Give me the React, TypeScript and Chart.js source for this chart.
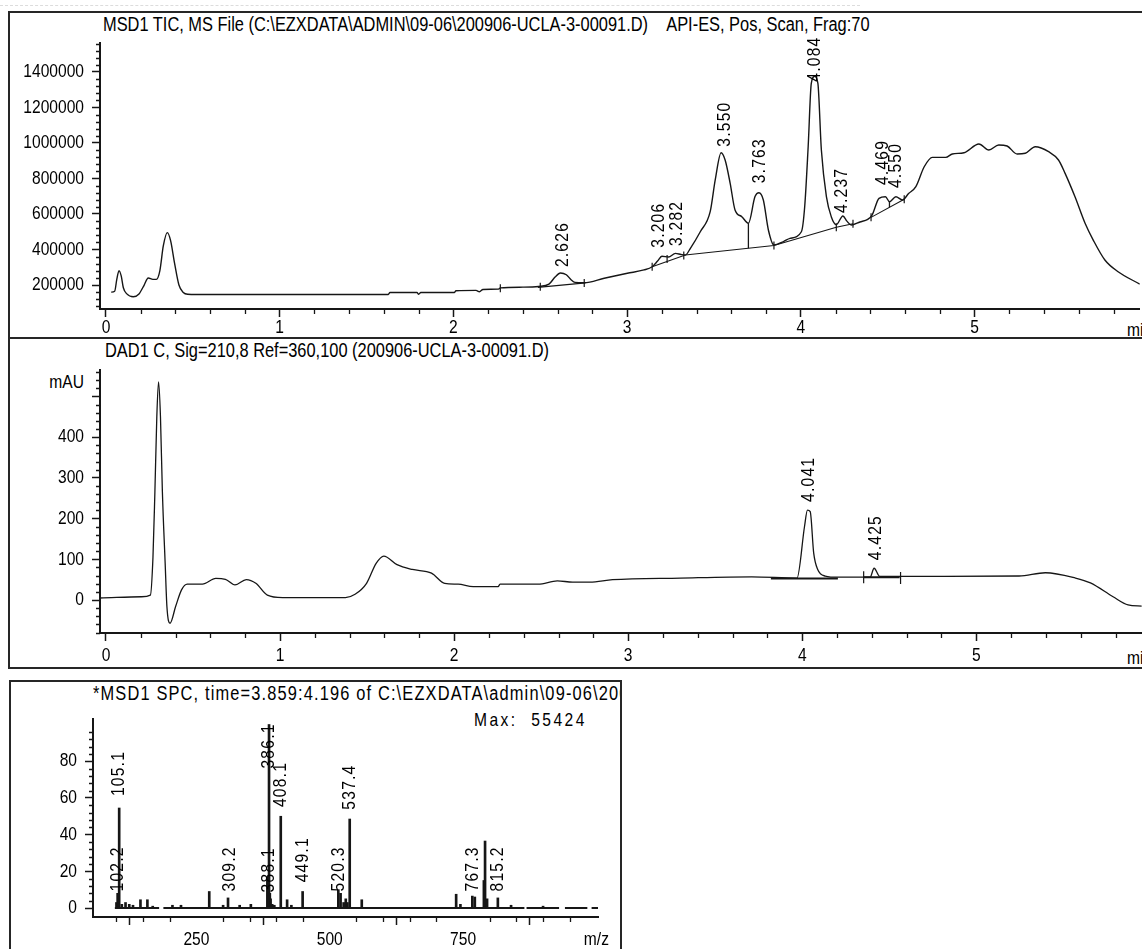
import React, { useEffect, useRef } from "react";
import { Chart, registerables } from "chart.js";

Chart.register(...registerables);

const FONT = '"Liberation Sans", Arial, sans-serif';
const NARROW = 0.82; // horizontal squeeze to imitate a narrow sans face
const INK = "#161616";

// ---------- Panel 1: MSD1 TIC ----------
const ticTime = [0.030,0.050,0.062,0.075,0.088,0.100,0.120,0.157,0.190,0.220,0.243,0.270,0.290,0.310,0.330,0.353,0.372,0.395,0.420,0.445,0.470,0.520,1.625,1.635,1.790,1.800,1.812,2.005,2.015,2.130,2.150,2.170,2.260,2.270,2.400,2.490,2.550,2.585,2.616,2.650,2.677,2.700,2.753,2.868,3.001,3.097,3.144,3.175,3.200,3.238,3.278,3.310,3.335,3.364,3.421,3.478,3.507,3.541,3.564,3.593,3.621,3.660,3.698,3.736,3.759,3.784,3.813,3.845,3.900,3.937,4.003,4.022,4.042,4.060,4.080,4.098,4.118,4.147,4.175,4.204,4.242,4.265,4.290,4.340,4.385,4.410,4.450,4.487,4.510,4.547,4.585,4.620,4.662,4.710,4.757,4.834,4.872,4.939,5.025,5.082,5.139,5.187,5.245,5.292,5.349,5.426,5.483,5.521,5.578,5.636,5.683,5.750,5.826,5.951];
const ticSignal = [160000,165000,230000,281000,250000,185000,150000,134000,150000,200000,240000,232000,232000,280000,420000,495000,450000,322000,200000,158000,148000,147000,147000,158000,158000,148000,158000,158000,168000,170000,162000,175000,177000,184000,188000,192000,205000,245000,268000,258000,230000,215000,213000,238000,266000,285000,303000,335000,362000,358000,378000,372000,369000,407000,500000,613000,792000,945000,904000,773000,623000,585000,548000,698000,720000,679000,510000,425000,445000,463000,500000,641000,979000,1336000,1375000,1336000,960000,698000,585000,540000,589000,560000,538000,555000,570000,594000,688000,697000,669000,697000,679000,715000,754000,866000,919000,919000,938000,945000,994000,960000,989000,983000,938000,942000,979000,951000,904000,829000,697000,548000,453000,341000,275000,205000];

const ticBaseT0 = [2.486, 3.144, 3.335, 3.845, 4.204, 4.404];
const ticBaseV0 = [187000, 303000, 369000, 423000, 525000, 581000];
const ticBaseT1 = [2.760, 3.335, 3.845, 4.204, 4.300, 4.595];
const ticBaseV1 = [212000, 369000, 423000, 525000, 545000, 683000];
const ticDropT = [3.698, 4.510];
const ticDropTop = [548000, 669000];
const ticDropBottom = [407000, 638000];
const ticMarkT = [2.270, 2.500, 2.753, 3.144, 3.230, 3.326, 3.845, 4.204, 4.300, 4.404, 4.595];
const ticMarkV = [182000, 190000, 211000, 303000, 347000, 366000, 423000, 525000, 545000, 581000, 683000];

const ticLabelText = ["2.626", "3.206", "3.282", "3.550", "3.763", "4.084", "4.237", "4.469", "4.550"];
const ticLabelTime = [2.629, 3.183, 3.288, 3.561, 3.761, 4.080, 4.238, 4.471, 4.547];
const ticLabelBase = [301000, 410000, 420000, 979000, 773000, 1345000, 606000, 763000, 746000];

const timeMajorTicks = [0, 1, 2, 3, 4, 5];
const ticYMajorTicks = [200000, 400000, 600000, 800000, 1000000, 1200000, 1400000];

// ---------- Panel 2: DAD1 C ----------
const dadTime = [-0.034,0.204,0.255,0.270,0.281,0.292,0.302,0.313,0.324,0.340,0.350,0.368,0.400,0.434,0.467,0.554,0.631,0.686,0.741,0.806,0.861,0.927,1.015,1.376,1.431,1.497,1.552,1.596,1.672,1.760,1.870,1.946,2.023,2.110,2.253,2.264,2.483,2.593,2.681,2.780,2.910,3.300,3.710,3.970,4.013,4.030,4.046,4.066,4.089,4.132,4.208,4.390,4.413,4.445,4.705,5.246,5.397,5.570,5.656,5.786,5.872,5.951];
const dadSignal = [5,8,12,106,266,450,536,450,266,90,-16,-57,-16,25,39,39,53,51,37,50,41,12,6,6,14,41,90,108,87,75,66,41,39,33,33,39,39,47,44,44,50,54,57,54,180,221,217,115,75,59,56,56,78,58,58,59,67,54,42,8,-12,-15];

const dadBaseT0 = [3.820, 4.353];
const dadBaseT1 = [4.205, 4.560];
const dadBaseV = [53, 56];
const dadMarkT = [4.353, 4.565];
const dadMarkV = [56, 54];

const dadLabelText = ["4.041", "4.425"];
const dadLabelTime = [4.035, 4.420];
const dadLabelBase = [241, 98];

const dadYMajorTicks = [0, 100, 200, 300, 400, 500];

// ---------- Panel 3: MSD1 SPC ----------
const msMz = [100,102.2,105.1,110,117,124,131,145,158,168,205,221,274,300,309.2,331,352,383,384.5,386.1,387.6,389,392,396,408.1,420,428,449.1,516,520.3,526,530,533,537.4,560,737,745,767.3,772,789,791.2,795,815.2,840,900];
const msAbund = [3,8,54.5,2,3,2,1.5,4.5,4.5,1,1.5,1.5,9,1.5,5.5,1.5,2,17,12,100,8,5,2,1.5,50,4.5,1.5,9,10,8,3,5,3,48.5,4.5,7.5,2,6.5,6,15,36.5,5,5.5,1.5,1];

const msBaseStart = [97, 188, 869, 941, 991];
const msBaseEnd = [180, 865, 930, 983, 1003];

const msLabelText = ["102.2", "105.1", "309.2", "386.1", "388.1", "408.1", "449.1", "520.3", "537.4", "767.3", "815.2"];
const msLabelMz = [102.2, 105.1, 312, 386.1, 385, 408.1, 449.1, 517.5, 537.4, 767.3, 815.2];
const msLabelBase = [9, 61, 9, 76, 8.5, 55, 14, 9, 53.6, 9, 9];

const msXMajorTicks = [250, 500, 750, 1000];
const msYMajorTicks = [0, 20, 40, 60, 80];

// ---------- helpers ----------
function minorValues(from: number, to: number, step: number, majorStep: number): number[] {
  const out: number[] = [];
  const n = Math.round((to - from) / step);
  for (let i = 0; i <= n; i++) {
    const v = from + i * step;
    const m = v / majorStep;
    if (Math.abs(m - Math.round(m)) > 1e-6) out.push(+v.toFixed(6));
  }
  return out;
}

type Lbl = { text: string; x: number; y: number };
function zipLabels(t: string[], xs: number[], ys: number[]): Lbl[] {
  return t.map((s, i) => ({ text: s, x: xs[i], y: ys[i] }));
}

function segments(x0: number[], y0: number[], x1: number[], y1: number[]) {
  const d: any[] = [];
  x0.forEach((x, i) => {
    d.push({ x, y: y0[i] }, { x: x1[i], y: y1[i] }, { x: x1[i] + 0.0001, y: null });
  });
  return d;
}

// rotated peak labels, reading bottom-to-top, starting at the given data point
function labelPlugin(labels: Lbl[], size: number, spacing: number) {
  return {
    id: "rotatedLabels",
    afterDatasetsDraw(chart: any) {
      const { ctx, scales } = chart;
      ctx.save();
      ctx.fillStyle = "#000";
      ctx.font = `${size}px ${FONT}`;
      ctx.textAlign = "left";
      ctx.textBaseline = "middle";
      try { (ctx as any).letterSpacing = spacing + "px"; } catch (e) { /* ignore */ }
      for (const l of labels) {
        const px = scales.x.getPixelForValue(l.x);
        const py = scales.y.getPixelForValue(l.y);
        ctx.save();
        ctx.translate(px, py);
        ctx.rotate(-Math.PI / 2);
        ctx.scale(NARROW, 1);
        ctx.fillText(l.text, 0, 0);
        ctx.restore();
      }
      ctx.restore();
    },
  };
}

// axis tick labels drawn with a narrow squeeze at the major tick positions
function axisLabelPlugin(xMaj: number[], xFmt: (v: number) => string, yMaj: number[], yFmt: (v: number) => string, xGap: number) {
  return {
    id: "axisLabels",
    afterDraw(chart: any) {
      const { ctx, chartArea: a, scales } = chart;
      ctx.save();
      ctx.fillStyle = "#000";
      ctx.font = `19px ${FONT}`;
      ctx.textBaseline = "middle";
      for (const v of xMaj) {
        const t = xFmt(v);
        if (!t) continue;
        const px = scales.x.getPixelForValue(v);
        ctx.save();
        ctx.translate(px, a.bottom + xGap);
        ctx.scale(NARROW, 1);
        ctx.textAlign = "center";
        ctx.fillText(t, 0, 0);
        ctx.restore();
      }
      for (const v of yMaj) {
        const t = yFmt(v);
        if (!t) continue;
        const py = scales.y.getPixelForValue(v);
        ctx.save();
        ctx.translate(a.left - 16, py);
        ctx.scale(NARROW, 1);
        ctx.textAlign = "right";
        ctx.fillText(t, 0, 0);
        ctx.restore();
      }
      ctx.restore();
    },
  };
}

function minorTickPlugin(xs: number[], ys: number[], xLen: number, yLen: number) {
  return {
    id: "minorTicks",
    afterDraw(chart: any) {
      const { ctx, chartArea: a, scales } = chart;
      ctx.save();
      ctx.strokeStyle = INK;
      ctx.lineWidth = 1.3;
      ctx.beginPath();
      for (const v of xs) {
        const p = Math.round(scales.x.getPixelForValue(v)) + 0.5;
        if (p < a.left - 1 || p > a.right + 1) continue;
        ctx.moveTo(p, a.bottom);
        ctx.lineTo(p, a.bottom + xLen);
      }
      for (const v of ys) {
        const p = Math.round(scales.y.getPixelForValue(v)) + 0.5;
        if (p < a.top - 1 || p > a.bottom + 1) continue;
        ctx.moveTo(a.left, p);
        ctx.lineTo(a.left - yLen, p);
      }
      ctx.stroke();
      ctx.restore();
    },
  };
}

function xAxis(min: number, max: number, majors: number[], height: number) {
  return {
    type: "linear",
    position: "bottom",
    min,
    max,
    offset: false,
    afterBuildTicks: (s: any) => { s.ticks = majors.map((v) => ({ value: v })); },
    afterFit: (s: any) => { s.height = height; },
    ticks: { display: false, autoSkip: false },
    grid: { display: true, drawOnChartArea: false, drawTicks: true, tickLength: 8, tickColor: INK, tickWidth: 1.5 },
    border: { display: true, color: INK, width: 2 },
  };
}

function yAxis(min: number, max: number, majors: number[], width: number) {
  return {
    type: "linear",
    position: "left",
    min,
    max,
    afterBuildTicks: (s: any) => { s.ticks = majors.map((v) => ({ value: v })); },
    afterFit: (s: any) => { s.width = width; },
    ticks: { display: false, autoSkip: false },
    grid: { display: true, drawOnChartArea: false, drawTicks: true, tickLength: 8, tickColor: INK, tickWidth: 1.5 },
    border: { display: true, color: INK, width: 2 },
  };
}

const baseOptions = (pad: any) => ({
  responsive: false,
  animation: false as const,
  events: [] as any[],
  layout: { padding: pad },
  plugins: { legend: { display: false }, tooltip: { enabled: false }, title: { display: false } },
});

const TIME_MIN = -0.0344;
const TIME_MAX = 5.951;

export default function App() {
  const r1 = useRef<HTMLCanvasElement>(null);
  const r2 = useRef<HTMLCanvasElement>(null);
  const r3 = useRef<HTMLCanvasElement>(null);

  useEffect(() => {
    const charts: Chart[] = [];
    const plain = (v: number) => String(v);

    // Panel 1
    charts.push(
      new Chart(r1.current as HTMLCanvasElement, {
        type: "line",
        data: {
          datasets: [
            {
              data: ticTime.map((t, i) => ({ x: t, y: ticSignal[i] })),
              borderColor: INK, borderWidth: 1.4, pointRadius: 0, cubicInterpolationMode: "monotone", fill: false,
            } as any,
            {
              data: segments(ticBaseT0, ticBaseV0, ticBaseT1, ticBaseV1),
              borderColor: INK, borderWidth: 1.1, pointRadius: 0, tension: 0, spanGaps: false,
            } as any,
            {
              data: segments(ticDropT, ticDropTop, ticDropT, ticDropBottom),
              borderColor: INK, borderWidth: 1.3, pointRadius: 0, tension: 0, spanGaps: false,
            } as any,
            {
              data: ticMarkT.map((t, i) => ({ x: t, y: ticMarkV[i] })),
              showLine: false, pointStyle: "line", pointRotation: 90, pointRadius: 4,
              pointBorderColor: INK, pointBorderWidth: 1.2,
            } as any,
          ],
        },
        options: {
          ...baseOptions({ top: 29, right: 0, bottom: 0, left: 0 }),
          scales: {
            x: xAxis(TIME_MIN, TIME_MAX, timeMajorTicks, 27),
            y: yAxis(65000, 1563000, ticYMajorTicks, 90),
          },
        } as any,
        plugins: [
          minorTickPlugin(minorValues(0, 5.8, 0.2, 1), minorValues(80000, 1560000, 40000, 200000), 5, 4),
          axisLabelPlugin(timeMajorTicks, plain, ticYMajorTicks, plain, 19),
          labelPlugin(zipLabels(ticLabelText, ticLabelTime, ticLabelBase), 19, 1.5),
        ] as any,
      })
    );

    // Panel 2
    charts.push(
      new Chart(r2.current as HTMLCanvasElement, {
        type: "line",
        data: {
          datasets: [
            {
              data: dadTime.map((t, i) => ({ x: t, y: dadSignal[i] })),
              borderColor: INK, borderWidth: 1.3, pointRadius: 0, cubicInterpolationMode: "monotone", fill: false,
            } as any,
            {
              data: segments(dadBaseT0, dadBaseV, dadBaseT1, dadBaseV),
              borderColor: INK, borderWidth: 2, pointRadius: 0, tension: 0, spanGaps: false,
            } as any,
            {
              data: dadMarkT.map((t, i) => ({ x: t, y: dadMarkV[i] })),
              showLine: false, pointStyle: "line", pointRotation: 90, pointRadius: 6,
              pointBorderColor: INK, pointBorderWidth: 1.2,
            } as any,
          ],
        },
        options: {
          ...baseOptions({ top: 30, right: 0, bottom: 0, left: 0 }),
          scales: {
            x: xAxis(TIME_MIN, TIME_MAX, timeMajorTicks, 34),
            y: yAxis(-81, 565, dadYMajorTicks, 90),
          },
        } as any,
        plugins: [
          minorTickPlugin(minorValues(0, 5.8, 0.2, 1), minorValues(-80, 560, 20, 100), 5, 4),
          axisLabelPlugin(timeMajorTicks, plain, dadYMajorTicks, (v) => (v === 500 ? "" : String(v)), 23),
          labelPlugin(zipLabels(dadLabelText, dadLabelTime, dadLabelBase), 19, 1.5),
        ] as any,
      })
    );

    // Panel 3
    const msBase: any[] = [];
    msBaseStart.forEach((s, i) => {
      msBase.push({ x: s, y: 0 }, { x: msBaseEnd[i], y: 0 }, { x: msBaseEnd[i] + 0.5, y: null });
    });
    charts.push(
      new Chart(r3.current as HTMLCanvasElement, {
        type: "bar",
        data: {
          datasets: [
            {
              type: "line",
              data: msBase,
              borderColor: INK, borderWidth: 2, pointRadius: 0, tension: 0, spanGaps: false, order: 1,
            } as any,
            {
              type: "bar",
              data: msMz.map((m, i) => ({ x: m, y: msAbund[i] })),
              backgroundColor: INK, borderWidth: 0, barThickness: 2, grouped: false, clip: false, order: 2,
            } as any,
          ],
        },
        options: {
          ...baseOptions({ top: 36, right: 22, bottom: 0, left: 0 }),
          scales: {
            x: xAxis(56, 1003, msXMajorTicks, 32),
            y: yAxis(-4.9, 103, msYMajorTicks, 82),
          },
        } as any,
        plugins: [
          minorTickPlugin(minorValues(100, 950, 50, 250), minorValues(4, 100, 4, 20), 5, 4),
          axisLabelPlugin(msXMajorTicks, (v) => (v === 1000 ? "m/z" : String(v)), msYMajorTicks, plain, 23),
          labelPlugin(zipLabels(msLabelText, msLabelMz, msLabelBase), 19, 1.5),
        ] as any,
      })
    );

    return () => charts.forEach((c) => c.destroy());
  }, []);

  const box = (left: number, top: number, width: number, height: number): React.CSSProperties => ({
    position: "absolute", left, top, width, height, border: "2px solid #262626", boxSizing: "border-box",
  });
  const txt = (left: number, top: number, extra: React.CSSProperties = {}): React.CSSProperties => ({
    position: "absolute", left, top, fontFamily: FONT, fontSize: 20, lineHeight: "20px", color: "#000",
    whiteSpace: "nowrap", transform: `scaleX(${NARROW})`, transformOrigin: "0 50%", ...extra,
  });

  return (
    <div style={{ position: "absolute", left: 0, top: 0, width: 1142, height: 949, overflow: "hidden", background: "#fff" }}>
      <div style={{ position: "absolute", left: 0, top: 5, width: 860, borderTop: "1px dashed #dcdcdc" }} />
      <div style={box(8, 11, 1150, 328)} />
      <div style={box(8, 337, 1150, 332)} />
      <div style={box(9, 680, 613, 300)} />

      <div style={txt(103, 14)}>MSD1 TIC, MS File (C:\EZXDATA\ADMIN\09-06\200906-UCLA-3-00091.D)&nbsp;&nbsp;&nbsp;&nbsp;API-ES, Pos, Scan, Frag:70</div>
      <div style={txt(105, 340)}>DAD1 C, Sig=210,8 Ref=360,100 (200906-UCLA-3-00091.D)</div>
      <div style={{ position: "absolute", left: 11, top: 682, width: 609, height: 40, overflow: "hidden" }}>
        <div style={txt(82, 1, { letterSpacing: "1.4px" })}>*MSD1 SPC, time=3.859:4.196 of C:\EZXDATA\admin\09-06\200906-UCLA-3-00091.D</div>
      </div>
      <div style={txt(474, 710, { fontSize: 19, letterSpacing: "3px" })}>Max:&nbsp; 55424</div>
      <div style={txt(40, 372, { width: 44, textAlign: "right", fontSize: 19, transformOrigin: "100% 50%" })}>mAU</div>
      <div style={txt(1127, 320, { fontSize: 19 })}>min</div>
      <div style={txt(1127, 648, { fontSize: 19 })}>min</div>

      <canvas ref={r1} width={1135} height={322} style={{ position: "absolute", left: 10, top: 14, width: 1135, height: 322 }} />
      <canvas ref={r2} width={1139} height={327} style={{ position: "absolute", left: 10, top: 340, width: 1139, height: 327 }} />
      <canvas ref={r3} width={609} height={266} style={{ position: "absolute", left: 11, top: 683, width: 609, height: 266 }} />
    </div>
  );
}
